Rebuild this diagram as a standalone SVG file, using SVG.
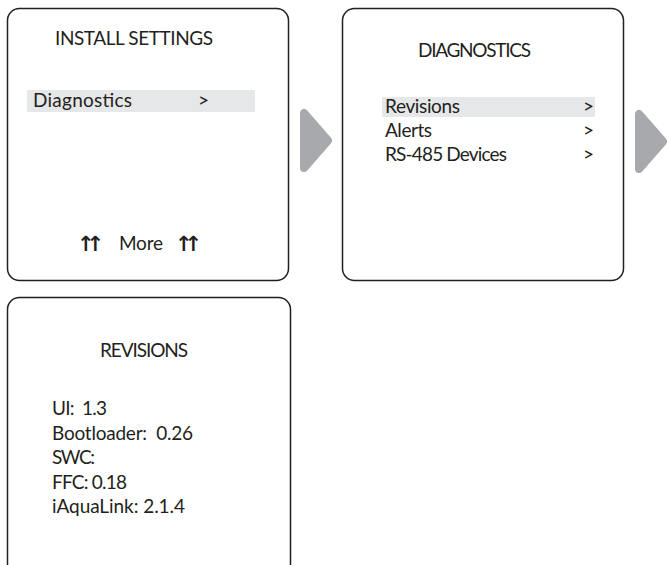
<svg xmlns="http://www.w3.org/2000/svg" width="669" height="565" viewBox="0 0 669 565">
<style>
.box{fill:#ffffff;stroke:#231f20;stroke-width:1.5}
.hl{fill:#e6e7e8}
.t{font-family:Lato,"Liberation Sans",sans-serif;font-size:19px;fill:#231f20;white-space:pre}
.arr{fill:#a7a9ac;stroke:#a7a9ac;stroke-width:8;stroke-linejoin:round}
.ua{font-family:"DejaVu Sans",sans-serif;font-size:21px;font-weight:bold;letter-spacing:-8px;fill:#231f20}
</style>
<rect width="669" height="565" fill="#ffffff"/>
<g id="install-settings">
<rect class="box" x="7.5" y="8.5" width="281" height="272" rx="12"/>
<text class="t" x="55" y="45" textLength="158">INSTALL SETTINGS</text>
<rect class="hl" x="27" y="90" width="228" height="22"/>
<text class="t" x="33" y="107" textLength="99">Diagnostics</text>
<text class="t" x="198" y="107">&gt;</text>
<text class="ua" x="77" y="251">↑↑</text>
<text class="t" x="119" y="250" textLength="44">More</text>
<text class="ua" x="175" y="251">↑↑</text>
</g>
<g id="diagnostics">
<rect class="box" x="342.5" y="8.5" width="281" height="272" rx="12"/>
<text class="t" x="418" y="57" textLength="113">DIAGNOSTICS</text>
<rect class="hl" x="382" y="97" width="213" height="20"/>
<text class="t" x="385" y="113" textLength="75">Revisions</text>
<text class="t" x="583" y="113">&gt;</text>
<text class="t" x="385" y="137" textLength="47">Alerts</text>
<text class="t" x="583" y="137">&gt;</text>
<text class="t" x="385" y="161" textLength="122">RS-485 Devices</text>
<text class="t" x="583" y="161">&gt;</text>
</g>
<g id="revisions">
<rect class="box" x="7.5" y="297.5" width="283" height="290" rx="12"/>
<text class="t" x="100" y="357" textLength="88">REVISIONS</text>
<text class="t" x="52" y="415" textLength="55">UI:  1.3</text>
<text class="t" x="52" y="440" textLength="141">Bootloader:  0.26</text>
<text class="t" x="52" y="464" textLength="43">SWC:</text>
<text class="t" x="52" y="489" textLength="75">FFC: 0.18</text>
<text class="t" x="52" y="513" textLength="133">iAquaLink: 2.1.4</text>
</g>
<g id="connectors">
<polygon class="arr" points="304,113 304,168 328,140.5"/>
<polygon class="arr" points="639,114 639,169 663,141.5"/>
</g>
</svg>
